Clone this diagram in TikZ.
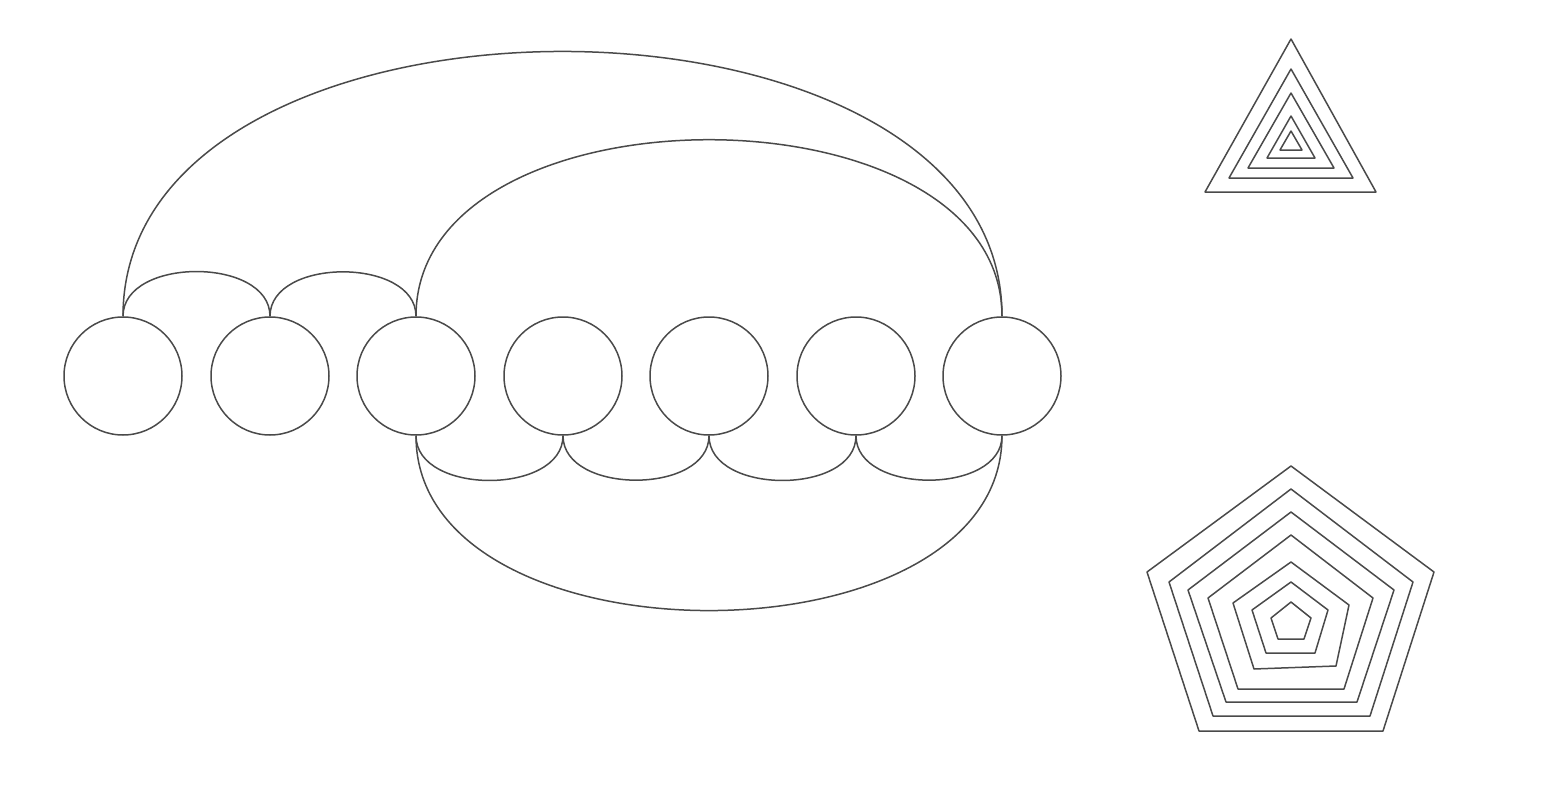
\documentclass[tikz,border=0pt]{standalone}
\begin{document}
\begin{tikzpicture}[x=0.5pt,y=0.5pt]
\definecolor{linegray}{HTML}{4A4A4A}
\tikzset{
  ln/.style={draw=linegray, line width=0.75pt, line join=round},
  ball/.style={circle, ln, minimum size=59pt, inner sep=0pt},
  arcup/.style={ln, out=90, in=90, looseness=1.04},
  arcdown/.style={ln, out=-90, in=-90, looseness=1.04}
}
\useasboundingbox (0,0) rectangle (1560,-787);
% circles
\node[ball] (c1) at (123,-376) {};
\node[ball] (c2) at (270,-376) {};
\node[ball] (c3) at (416,-376) {};
\node[ball] (c4) at (563,-376) {};
\node[ball] (c5) at (709,-376) {};
\node[ball] (c6) at (856,-376) {};
\node[ball] (c7) at (1002,-376) {};
% upper arcs
\draw[arcup] (c1.north) to (c2.north);
\draw[arcup] (c2.north) to (c3.north);
\draw[arcup, looseness=1.03] (c1.north) to (c7.north);
\draw[arcup, looseness=1.03] (c3.north) to (c7.north);
% lower arcs
\draw[arcdown] (c3.south) to (c4.south);
\draw[arcdown] (c4.south) to (c5.south);
\draw[arcdown] (c5.south) to (c6.south);
\draw[arcdown] (c6.south) to (c7.south);
\draw[arcdown, looseness=1.02] (c3.south) to (c7.south);
% nested triangles
\draw[ln] (1291,-39) -- (1376,-192) -- (1205,-192) -- cycle;
\draw[ln] (1291,-69) -- (1353,-178) -- (1229,-178) -- cycle;
\draw[ln] (1291,-93) -- (1334,-168) -- (1248,-168) -- cycle;
\draw[ln] (1291,-116) -- (1315,-158) -- (1267,-158) -- cycle;
\draw[ln] (1291,-131) -- (1302,-150) -- (1280,-150) -- cycle;
% nested pentagons
\draw[ln] (1291,-466) -- (1434,-572) -- (1383,-731) -- (1199,-731) -- (1147,-572) -- cycle;
\draw[ln] (1291,-489) -- (1413,-582) -- (1370,-716) -- (1213,-716) -- (1169,-582) -- cycle;
\draw[ln] (1291,-512) -- (1394,-590) -- (1357,-702) -- (1226,-702) -- (1188,-590) -- cycle;
\draw[ln] (1291,-535) -- (1373,-598) -- (1344,-689) -- (1238,-689) -- (1208,-598) -- cycle;
\draw[ln] (1291,-562) -- (1349,-605) -- (1336,-666) -- (1254,-669) -- (1233,-603) -- cycle;
\draw[ln] (1291,-582) -- (1328,-610) -- (1315,-653) -- (1266,-653) -- (1252,-610) -- cycle;
\draw[ln] (1291,-602) -- (1311,-618) -- (1304,-639) -- (1278,-639) -- (1271,-618) -- cycle;
\end{tikzpicture}
\end{document}
